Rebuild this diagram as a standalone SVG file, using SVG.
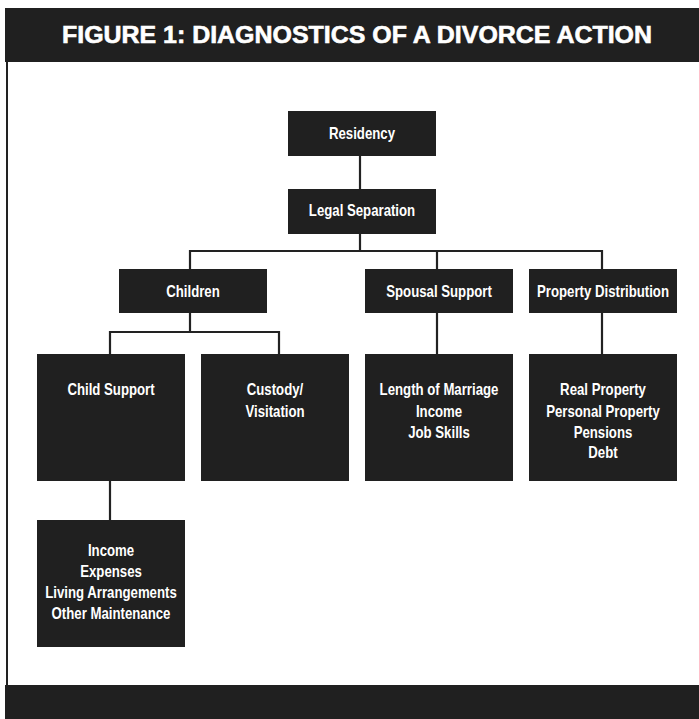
<svg xmlns="http://www.w3.org/2000/svg" width="699" height="719" viewBox="0 0 699 719">
<style>
.box{fill:#202020}
.t{fill:#fff;font-family:"Liberation Sans",Arial,sans-serif;font-weight:bold;font-size:16.5px;text-anchor:middle}
.ln{stroke:#222;stroke-width:2.2;fill:none}
</style>
<rect x="0" y="0" width="699" height="719" fill="#fff"/>
<rect x="5" y="8" width="694" height="54" fill="#202020"/>
<text x="357" y="43" fill="#fff" font-family="'Liberation Sans',Arial,sans-serif" font-weight="bold" font-size="24" text-anchor="middle" textLength="590" lengthAdjust="spacingAndGlyphs" stroke="#fff" stroke-width="0.6">FIGURE 1: DIAGNOSTICS OF A DIVORCE ACTION</text>
<line x1="7" y1="62" x2="7" y2="685" stroke="#222" stroke-width="2"/>
<rect x="5" y="685" width="694" height="34" fill="#202020"/>
<g id="connectors" class="ln">
<path d="M360 156V189"/>
<path d="M360 234V251"/>
<path d="M190 269V251H602V269"/>
<path d="M437 251V269"/>
<path d="M190 313V332"/>
<path d="M110 354V332H279V354"/>
<path d="M437 313V354"/>
<path d="M602 313V354"/>
<path d="M110 481V520"/>
</g>
<g id="residency"><rect class="box" x="288" y="111" width="148" height="45"/><text class="t" transform="translate(362 139) scale(0.8 1)">Residency</text></g>
<g id="legal-separation"><rect class="box" x="288" y="189" width="148" height="45"/><text class="t" transform="translate(362 216) scale(0.8 1)">Legal Separation</text></g>
<g id="children"><rect class="box" x="119" y="269" width="148" height="44"/><text class="t" transform="translate(193 297) scale(0.8 1)">Children</text></g>
<g id="spousal-support"><rect class="box" x="365" y="269" width="148" height="44"/><text class="t" transform="translate(439 297) scale(0.8 1)">Spousal Support</text></g>
<g id="property-distribution"><rect class="box" x="529" y="269" width="148" height="44"/><text class="t" transform="translate(603 297) scale(0.8 1)">Property Distribution</text></g>
<g id="child-support"><rect class="box" x="37" y="354" width="148" height="127"/><text class="t" transform="translate(111 395) scale(0.8 1)">Child Support</text></g>
<g id="custody"><rect class="box" x="201" y="354" width="148" height="127"/><text class="t" transform="translate(275 395) scale(0.8 1)">Custody/</text><text class="t" transform="translate(275 417) scale(0.8 1)">Visitation</text></g>
<g id="spousal-factors"><rect class="box" x="365" y="354" width="148" height="127"/><text class="t" transform="translate(439 395) scale(0.8 1)">Length of Marriage</text><text class="t" transform="translate(439 417) scale(0.8 1)">Income</text><text class="t" transform="translate(439 438) scale(0.8 1)">Job Skills</text></g>
<g id="property-factors"><rect class="box" x="529" y="354" width="148" height="127"/><text class="t" transform="translate(603 395) scale(0.8 1)">Real Property</text><text class="t" transform="translate(603 417) scale(0.8 1)">Personal Property</text><text class="t" transform="translate(603 438) scale(0.8 1)">Pensions</text><text class="t" transform="translate(603 458) scale(0.8 1)">Debt</text></g>
<g id="child-support-factors"><rect class="box" x="37" y="520" width="148" height="127"/><text class="t" transform="translate(111 556) scale(0.8 1)">Income</text><text class="t" transform="translate(111 577) scale(0.8 1)">Expenses</text><text class="t" transform="translate(111 598) scale(0.8 1)">Living Arrangements</text><text class="t" transform="translate(111 619) scale(0.8 1)">Other Maintenance</text></g>
</svg>
